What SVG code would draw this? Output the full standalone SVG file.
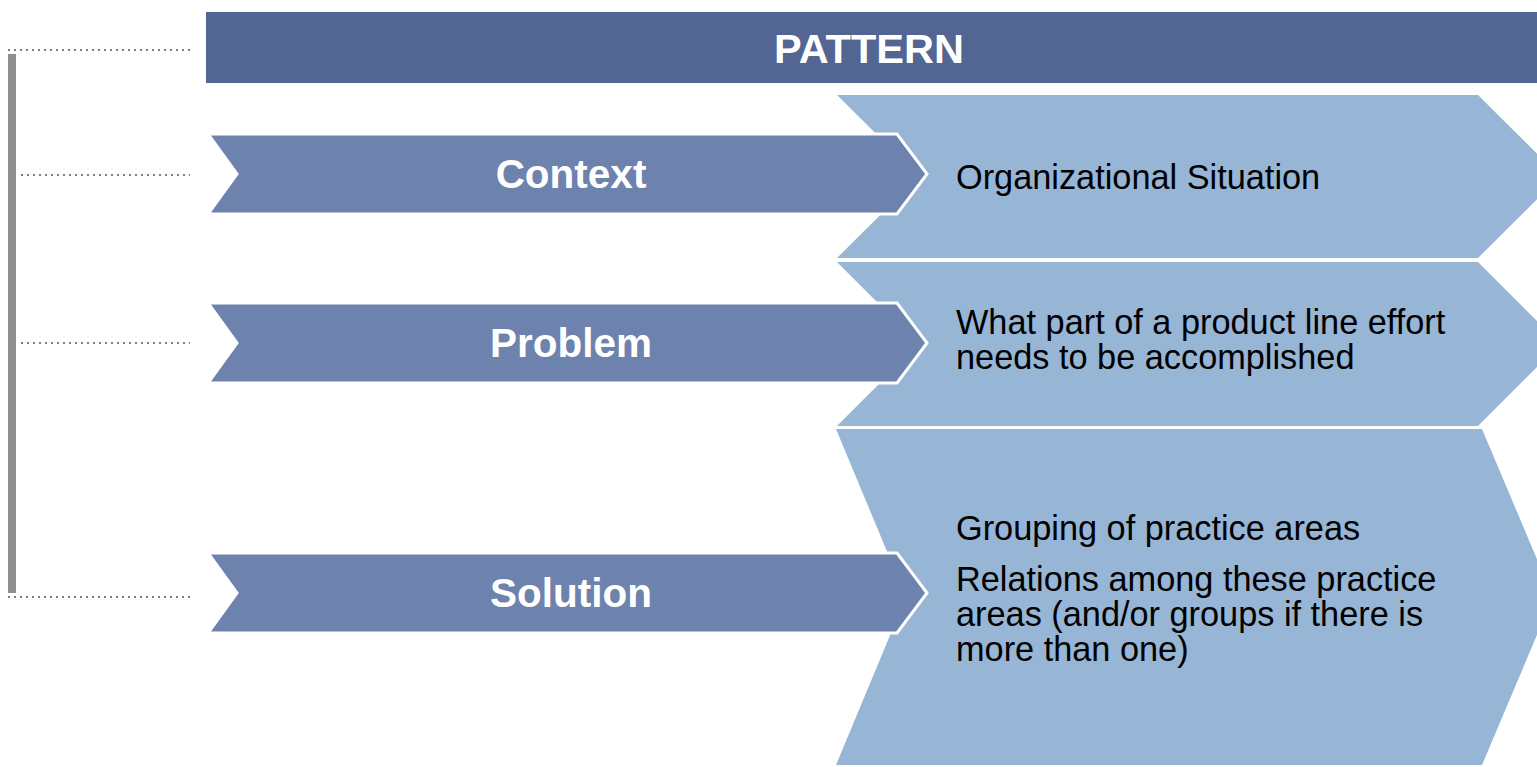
<svg xmlns="http://www.w3.org/2000/svg" width="1537" height="767" viewBox="0 0 1537 767">
<style>
.light{fill:#97B5D5;}
.dark{fill:#6E82AE;stroke:#FFFFFF;stroke-width:3;stroke-linejoin:miter;}
.dot{stroke:#7F7F7F;stroke-width:2;stroke-dasharray:2 4;fill:none;}
.lbl{font-family:"Liberation Sans",Arial,sans-serif;font-weight:bold;font-size:40.5px;fill:#FFFFFF;text-anchor:middle;}
.desc{font-family:"Liberation Sans",Arial,sans-serif;font-size:34.3px;fill:#000000;}
</style>
<rect width="1537" height="767" fill="#FFFFFF"/>
<g id="connectors">
<rect x="8" y="54" width="8" height="539" fill="#8F8F8F"/>
<line class="dot" x1="8" y1="50" x2="190" y2="50"/>
<line class="dot" x1="21" y1="175" x2="190" y2="175"/>
<line class="dot" x1="21" y1="343" x2="190" y2="343"/>
<line class="dot" x1="8" y1="597" x2="190" y2="597"/>
</g>
<g id="pattern">
<rect x="206" y="12" width="1331" height="71" fill="#526593"/>
<text x="869" y="63" font-family="Liberation Sans, Arial, sans-serif" font-weight="bold" font-size="41.5" fill="#FFFFFF" text-anchor="middle">PATTERN</text>
</g>
<g id="context-desc">
<polygon class="light" points="837,95 1478,95 1560,176.5 1478,258 837,258 919,176.5"/>
<text class="desc" x="956" y="189">Organizational Situation</text>
</g>
<g id="problem-desc">
<polygon class="light" points="837,262 1478,262 1560,344 1478,426 837,426 919,344"/>
<text class="desc" x="956" y="334">What part of a product line effort</text>
<text class="desc" x="956" y="369">needs to be accomplished</text>
</g>
<g id="solution-desc">
<polygon class="light" points="836,429 1482,429 1553,597 1482,765 836,765 906,597"/>
<text class="desc" x="956" y="540">Grouping of practice areas</text>
<text class="desc" x="956" y="591">Relations among these practice</text>
<text class="desc" x="956" y="626">areas (and/or groups if there is</text>
<text class="desc" x="956" y="661">more than one)</text>
</g>
<g id="context">
<polygon class="dark" points="208,134 897,134 927,174 897,214 208,214 237,174"/>
<text class="lbl" x="571" y="188">Context</text>
</g>
<g id="problem">
<polygon class="dark" points="208,303 897,303 927,343 897,383 208,383 237,343"/>
<text class="lbl" x="571" y="357">Problem</text>
</g>
<g id="solution">
<polygon class="dark" points="208,553 897,553 927,593 897,633 208,633 237,593"/>
<text class="lbl" x="571" y="607">Solution</text>
</g>
</svg>
